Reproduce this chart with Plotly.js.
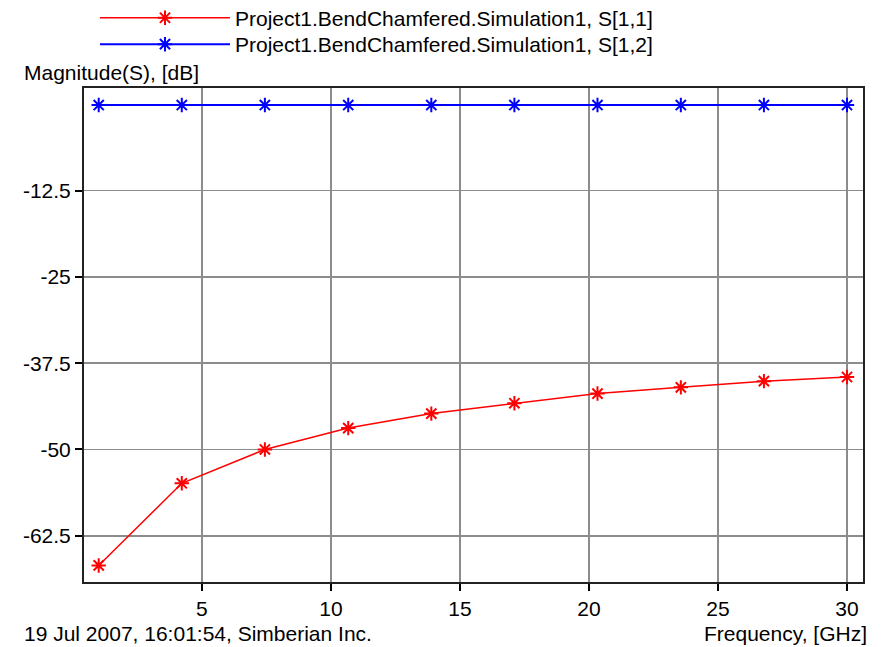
<!DOCTYPE html>
<html>
<head>
<meta charset="utf-8">
<script src="https://cdn.plot.ly/plotly-3.0.1.min.js"></script>
<style>
html,body{margin:0;padding:0;background:#fff;}
#chart{width:885px;height:647px;}
</style>
</head>
<body>
<div id="chart"></div>
<script>
// Data
var freqGHz = [1, 4.22, 7.44, 10.67, 13.89, 17.11, 20.33, 23.56, 26.78, 30];
var s11dB = [-66.8, -54.9, -50.0, -46.9, -44.8, -43.3, -41.9, -41.0, -40.1, -39.5];
var s12dB = [-0.1, -0.1, -0.1, -0.1, -0.1, -0.1, -0.1, -0.1, -0.1, -0.1];
var seriesNames = ["Project1.BendChamfered.Simulation1, S[1,1]", "Project1.BendChamfered.Simulation1, S[1,2]"];
var xTickVals = [5, 10, 15, 20, 25, 30];
var xTickText = ["5", "10", "15", "20", "25", "30"];
var yTickVals = [-12.5, -25, -37.5, -50, -62.5];
var yTickText = ["-12.5", "-25", "-37.5", "-50", "-62.5"];
var yTitle = "Magnitude(S), [dB]";
var xTitle = "Frequency, [GHz]";
var footer = "19 Jul 2007, 16:01:54, Simberian Inc.";

var FONT = "Liberation Sans, Arial, sans-serif";

var traces = [
  {
    x: freqGHz, y: s11dB, name: seriesNames[0], type: "scatter", mode: "lines+markers",
    legend: "legend",
    line: {color: "#ff0000", width: 1.5},
    marker: {symbol: "asterisk", size: 12, color: "#ff0000", line: {color: "#ff0000", width: 2}}
  },
  {
    x: freqGHz, y: s12dB, name: seriesNames[1], type: "scatter", mode: "lines+markers",
    legend: "legend2",
    line: {color: "#0000ff", width: 2},
    marker: {symbol: "asterisk", size: 12, color: "#0000ff", line: {color: "#0000ff", width: 2}}
  }
];

function legendBox(yTop) {
  return {
    x: 0.0141, xanchor: "left", y: yTop, yanchor: "top",
    font: {family: FONT, size: 21, color: "#000000"},
    bgcolor: "rgba(0,0,0,0)", itemwidth: 130, itemclick: false
  };
}

var layout = {
  width: 885, height: 647,
  margin: {l: 84, r: 22, t: 88, b: 65, autoexpand: false},
  paper_bgcolor: "#ffffff", plot_bgcolor: "#ffffff",
  font: {family: FONT, size: 21, color: "#000000"},
  showlegend: true,
  legend: legendBox(1.183),
  legend2: legendBox(1.1295),
  xaxis: {
    range: [0.43, 30.62], tickmode: "array", tickvals: xTickVals, ticktext: xTickText,
    showgrid: true, gridcolor: "#8c8c8c", gridwidth: 1.5,
    showline: true, linecolor: "#222222", linewidth: 2, mirror: true,
    ticks: "outside", ticklen: 7, tickwidth: 2, tickcolor: "#000000",
    zeroline: false, automargin: false, tickfont: {family: FONT, size: 21, color: "#000000"}
  },
  yaxis: {
    range: [-69.2, 2.37], tickmode: "array", tickvals: yTickVals, ticktext: yTickText,
    showgrid: true, gridcolor: "#8c8c8c", gridwidth: 1.5,
    showline: true, linecolor: "#222222", linewidth: 2, mirror: true,
    ticks: "outside", ticklen: 7, tickwidth: 2, tickcolor: "#000000",
    zeroline: false, automargin: false, tickfont: {family: FONT, size: 21, color: "#000000"}
  },
  annotations: [
    {text: yTitle, xref: "paper", yref: "paper", x: -0.0796, y: 1.0, xanchor: "left", yanchor: "bottom", yshift: 2, showarrow: false, font: {family: FONT, size: 21, color: "#000"}},
    {text: footer, xref: "paper", yref: "paper", x: -0.0796, y: 0, xanchor: "left", yanchor: "top", yshift: -38, showarrow: false, font: {family: FONT, size: 21, color: "#000"}},
    {text: xTitle, xref: "paper", yref: "paper", x: 1.0077, y: 0, xanchor: "right", yanchor: "top", yshift: -38, showarrow: false, font: {family: FONT, size: 21, color: "#000"}}
  ]
};

Plotly.newPlot("chart", traces, layout, {staticPlot: true, displayModeBar: false});
</script>
</body>
</html>
